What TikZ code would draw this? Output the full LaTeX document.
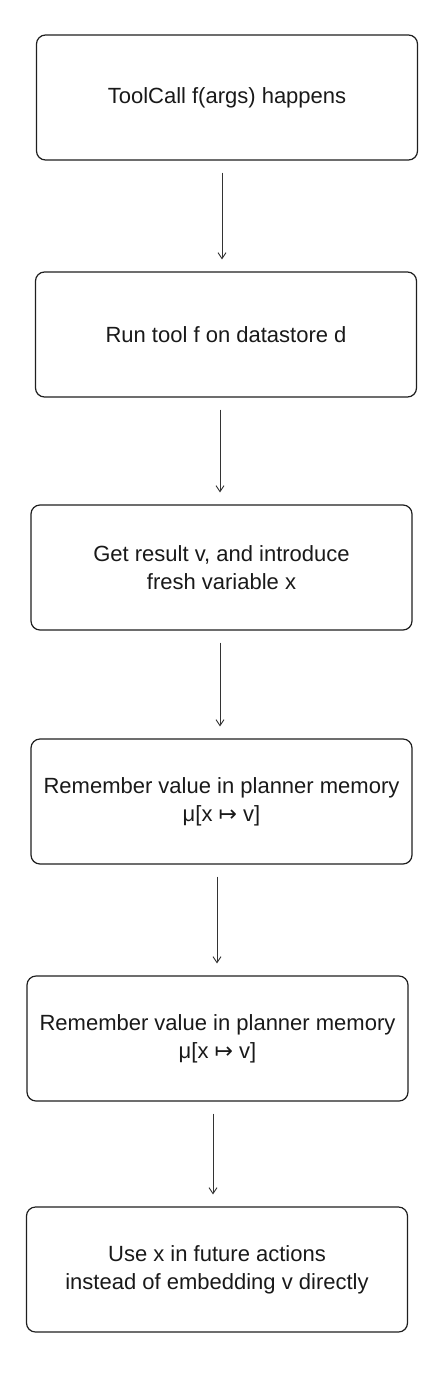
\documentclass[tikz,border=0pt]{standalone}
\usepackage{fontspec}
\setmainfont{Liberation Sans}
\newfontfamily\arrfont{DejaVu Sans}
\usepackage{tikz}
\usetikzlibrary{positioning,calc,arrows.meta}
\tikzstyle{stepbox}= [draw=black!88, line width=1.2pt, rounded corners=9pt, minimum width=381pt, minimum height=125pt, align=center, text=black!90, font=\fontsize{22}{28}\selectfont]
\tikzstyle{arr}= [draw=black!80, line width=0.9pt, -{Straight Barb[length=6pt,width=8pt]}, shorten <=12pt, shorten >=12pt]
\begin{document}
\begin{tikzpicture}[x=1pt,y=-1pt]
						\useasboundingbox (0,0) rectangle (444,1374);
						\node[stepbox] (b1) at (227, 97.5) {ToolCall f(args) happens};
						\node[stepbox] (b2) at (226, 334.5) {Run tool f on datastore d};
						\node[stepbox] (b3) at (221.5, 567.5) {Get result v, and introduce\\fresh variable x};
						\node[stepbox] (b4) at (221.5, 801.5) {Remember value in planner memory\\μ[x {\arrfont ↦} v]};
						\node[stepbox] (b5) at (217.5, 1038.5) {Remember value in planner memory\\μ[x {\arrfont ↦} v]};
						\node[stepbox] (b6) at (217, 1269.5) {Use x in future actions\\instead of embedding v directly};
						\draw[arr]([xshift=-5pt]b1.south) -- ([xshift=-4pt]b2.north);
						\draw[arr]([xshift=-6pt]b2.south) -- ([xshift=-1.5pt]b3.north);
						\draw[arr]([xshift=-1.5pt]b3.south) -- ([xshift=-1.5pt]b4.north);
						\draw[arr]([xshift=-4.5pt]b4.south) -- ([xshift=-0.5pt]b5.north);
						\draw[arr]([xshift=-4.5pt]b5.south) -- ([xshift=-4pt]b6.north);
					\end{tikzpicture}
\end{document}
